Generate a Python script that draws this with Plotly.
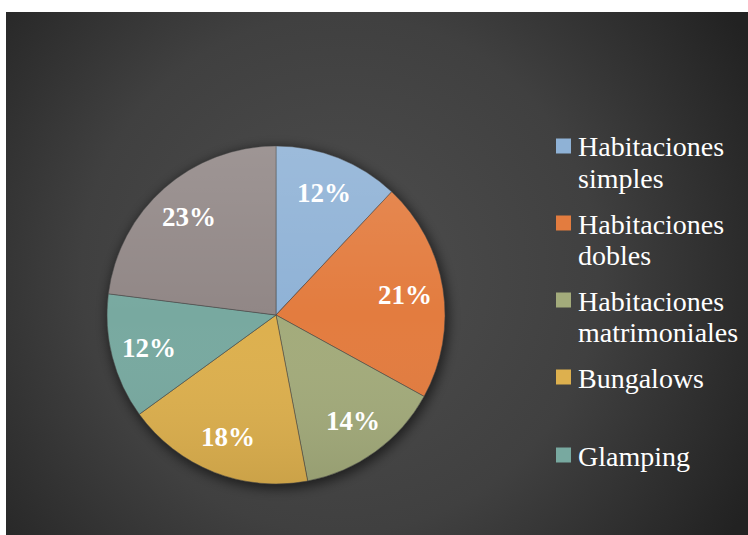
import base64
import math
import plotly.graph_objects as go

# Share of each accommodation type (clockwise from 12 o'clock)
categories = ["Habitaciones simples", "Habitaciones dobles", "Habitaciones matrimoniales",
              "Bungalows", "Glamping", "Otros"]
values = [12, 21, 14, 18, 12, 23]
colors = ["#8fb2d6", "#e37c3f", "#a3ab7b", "#ddb04e", "#78a9a0", "#918786"]
# Legend rows as drawn (text wrapped like the original layout); last category has no row
legend_lines = [["Habitaciones", "simples"], ["Habitaciones", "dobles"],
                ["Habitaciones", "matrimoniales"], ["Bungalows"], ["Glamping"]]

W, H = 748, 535
PX0, PY0 = 6, 12            # top-left corner of the dark panel
CX, CY, R = 276, 315, 169   # pie centre and radius in pixels
SERIF = "Times New Roman, Liberation Serif, serif"


def px(x):
    return x / W


def py(y):
    return 1 - y / H


def svg_uri(svg):
    return "data:image/svg+xml;base64," + base64.b64encode(svg.encode()).decode()


pw, ph = W - PX0, H - PY0
pcx, pcy = CX - PX0, CY - PY0
background = f"""<svg xmlns='http://www.w3.org/2000/svg' width='{pw}' height='{ph}'>
<defs>
<radialGradient id='bg' gradientUnits='userSpaceOnUse' cx='{pw*0.45}' cy='{ph*0.5}' r='470'>
<stop offset='0' stop-color='#4e4e4e'/>
<stop offset='0.55' stop-color='#404040'/>
<stop offset='1' stop-color='#222222'/>
</radialGradient>
<filter id='blur' x='-20%' y='-20%' width='140%' height='140%'>
<feGaussianBlur stdDeviation='6'/>
</filter>
</defs>
<rect width='{pw}' height='{ph}' fill='url(#bg)'/>
<circle cx='{pcx+2}' cy='{pcy+3}' r='{R+2}' fill='black' fill-opacity='0.55' filter='url(#blur)'/>
</svg>"""

sheen = f"""<svg xmlns='http://www.w3.org/2000/svg' width='{2*R}' height='{2*R}'>
<defs>
<linearGradient id='g' x1='0' y1='0' x2='0' y2='1'>
<stop offset='0' stop-color='white' stop-opacity='0.12'/>
<stop offset='0.5' stop-color='white' stop-opacity='0'/>
<stop offset='1' stop-color='black' stop-opacity='0.08'/>
</linearGradient>
</defs>
<circle cx='{R}' cy='{R}' r='{R}' fill='url(#g)'/>
</svg>"""

fig = go.Figure(go.Pie(
    labels=categories,
    values=values,
    sort=False,
    direction="clockwise",
    rotation=0,
    marker=dict(colors=colors, line=dict(color="rgba(70,70,70,0.7)", width=0.75)),
    textinfo="none",
    hoverinfo="label+percent",
    showlegend=False,
    domain=dict(x=[px(CX - R), px(CX + R)], y=[py(CY + R), py(CY - R)]),
))

images = [
    dict(source=svg_uri(background), xref="paper", yref="paper",
         x=px(PX0), y=py(PY0), sizex=pw / W, sizey=ph / H,
         xanchor="left", yanchor="top", sizing="stretch", layer="below"),
    dict(source=svg_uri(sheen), xref="paper", yref="paper",
         x=px(CX - R), y=py(CY - R), sizex=2 * R / W, sizey=2 * R / H,
         xanchor="left", yanchor="top", sizing="stretch", layer="above"),
]

annotations = []
total = sum(values)
cum = 0
for v in values:
    mid = 2 * math.pi * (cum + v / 2) / total
    cum += v
    lx = CX + 0.775 * R * math.sin(mid)
    ly = CY - 0.775 * R * math.cos(mid)
    annotations.append(dict(
        x=px(lx), y=py(ly), xref="paper", yref="paper", showarrow=False,
        text=f"<b>{round(100 * v / total)}%</b>", xanchor="center", yanchor="middle",
        font=dict(family=SERIF, size=27, color="white")))

shapes = []
row_y = [146, 223, 300, 377, 455]
for i, (lines, y0) in enumerate(zip(legend_lines, row_y)):
    shapes.append(dict(type="rect", xref="paper", yref="paper",
                       x0=px(556), x1=px(571), y0=py(y0 + 7.5), y1=py(y0 - 7.5),
                       fillcolor=colors[i], line=dict(width=0)))
    for j, line in enumerate(lines):
        annotations.append(dict(
            x=px(576), y=py(y0 + 1 + 31.5 * j), xref="paper", yref="paper", showarrow=False,
            text=line, xanchor="left", yanchor="middle",
            font=dict(family=SERIF, size=28, color="white")))

fig.update_layout(
    width=W, height=H,
    margin=dict(l=0, r=0, t=0, b=0),
    paper_bgcolor="white",
    plot_bgcolor="white",
    images=images,
    shapes=shapes,
    annotations=annotations,
)

fig.write_html("out.html")
